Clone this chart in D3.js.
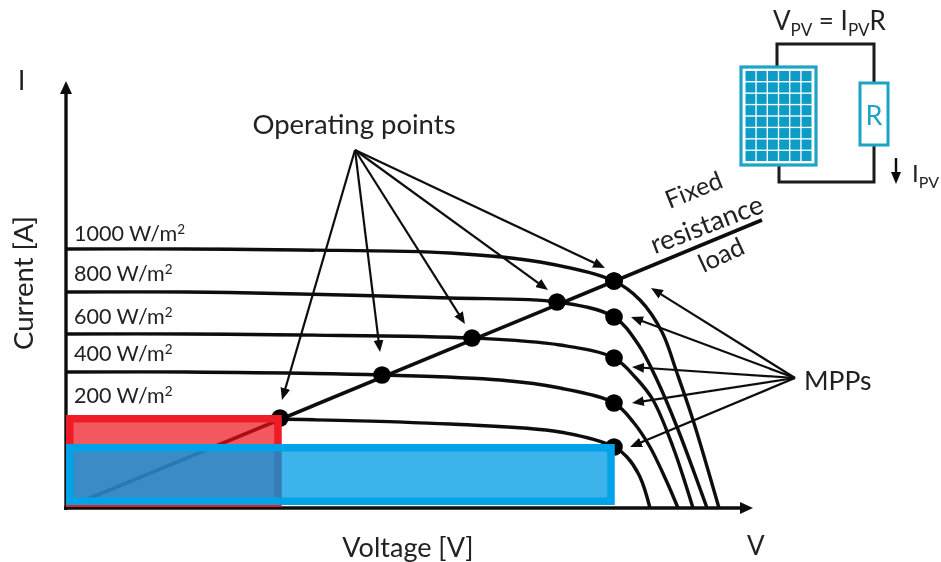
<!DOCTYPE html>
<html><head><meta charset="utf-8">
<script src="https://cdn.jsdelivr.net/npm/d3@7"></script>
<style>html,body{margin:0;background:#fff}svg{display:block}text{font-family:Lato,sans-serif;fill:#222}</style>
</head><body><svg id="c" width="941" height="562"></svg>
<script>
// Values are in reading units: voltage and current as measured along each axis.
const irradianceLabels = ["1000 W/m","800 W/m","600 W/m","400 W/m","200 W/m"];
const curve1000 = [[0,259],[120,259],[234,258],[384,255],[474,246],[548,227],[574,208],[596,176],[611,135],[627,88],[653,0]];
const curve800  = [[0,216],[120,216],[234,214],[384,210],[491,206],[548,191],[572,164],[591,128],[611,81],[641,0]];
const curve600  = [[0,174],[120,174],[234,173],[406,170],[494,163],[548,150],[570,130],[587,108],[607,61],[627,0]];
const curve400  = [[0,136],[120,136],[316,133],[434,128],[494,120],[548,105],[568,85],[584,61],[600,28],[612,0]];
const curve200  = [[0,91],[120,91],[214,89],[384,84],[494,76],[548,61],[561,51],[574,31],[584,0]];
const curves = [curve1000,curve800,curve600,curve400,curve200];
const loadLine = [[0,0],[696,288]];
const operatingPoints = [[214,90],[316,133],[406,170],[491,206],[548,227]];
const mppPoints = [[548,227],[548,191],[548,150],[548,105],[548,61]];
const opArrowFrom = [289,358];
const opArrowTo = [[216,108],[314,156],[399,184],[482,218],[539,240]];
const mppArrowFrom = [729,130];
const mppArrowTo = [[585,220],[565,191],[566,141],[566,105],[564,61]];
const redRect = {v:212, i:93};
const blueRect = {v:545, i:64};
const panelRows = d3.range(8), panelCols = d3.range(6);

const svg = d3.select("#c");
const x = d3.scaleLinear().domain([0,700]).range([66,766]);
const y = d3.scaleLinear().domain([0,430]).range([508,78]);
const defs = svg.append("defs");
defs.append("filter").attr("id","soft").attr("x","-5%").attr("y","-5%").attr("width","110%").attr("height","110%")
  .append("feGaussianBlur").attr("stdDeviation",0.55);
function marker(id,w,h,c){
  defs.append("marker").attr("id",id).attr("viewBox",`0 0 ${w} ${h}`).attr("refX",1).attr("refY",h/2)
   .attr("markerUnits","userSpaceOnUse").attr("markerWidth",w).attr("markerHeight",h).attr("orient","auto")
   .append("path").attr("d",`M${w},${h/2}L0,0L0,${h}Z`).attr("fill",c);
}
marker("small",12,10,"#111"); marker("axis",13,12,"#111");
const g = svg.append("g").attr("filter","url(#soft)");
const line = d3.line().x(d=>x(d[0])).y(d=>y(d[1]));

// curves
const cLine = d3.line().x(d=>x(d[0])).y(d=>y(d[1])).curve(d3.curveCatmullRom.alpha(0.5));
g.selectAll(".curve").data(curves).join("path").attr("class","curve").attr("d",cLine)
  .attr("fill","none").attr("stroke","#0c0c0c").attr("stroke-width",3.4);
// load line
g.append("path").attr("d",line(loadLine)).attr("fill","none").attr("stroke","#0c0c0c").attr("stroke-width",3.6);
// points
g.selectAll(".op").data(operatingPoints.concat(mppPoints)).join("circle")
  .attr("cx",d=>x(d[0])).attr("cy",d=>y(d[1])).attr("r",8.8).attr("fill","#050505");

// axes
const xAxis = g.append("g").attr("transform",`translate(0,${y(0)})`).call(d3.axisBottom(x).tickValues([]).tickSizeOuter(0));
const yAxis = g.append("g").attr("transform",`translate(${x(0)},0)`).call(d3.axisLeft(y).tickValues([]).tickSizeOuter(0));
xAxis.select(".domain").attr("stroke","#111").attr("stroke-width",3.4).attr("d",`M${x(0)-2},0H${x(675)}`).attr("marker-end","url(#axis)");
yAxis.select(".domain").attr("stroke","#111").attr("stroke-width",3.4).attr("d",`M0,${y(0)+2}V${y(415)}`).attr("marker-end","url(#axis)");

// rectangles at the operating point and the MPP of the 200 W/m2 curve
const sw = 7.5;
g.append("rect").attr("x",x(0)+sw/2).attr("y",y(redRect.i)+sw/2).attr("width",x(redRect.v)-x(0)-sw/2).attr("height",y(0)-y(redRect.i)-sw-1)
 .attr("fill","#f0131e").attr("fill-opacity",0.7).attr("stroke","#ee1c25").attr("stroke-width",sw);
g.append("rect").attr("x",x(0)+sw/2).attr("y",y(blueRect.i)+sw/2).attr("width",x(blueRect.v)-x(0)-sw/2).attr("height",y(0)-y(blueRect.i)-sw-3)
 .attr("fill","#009be6").attr("fill-opacity",0.76).attr("stroke","#00a2e8").attr("stroke-width",sw);

// arrows
function arrows(from,to){
  g.selectAll(null).data(to).join("line")
   .attr("x1",x(from[0])).attr("y1",y(from[1]))
   .attr("x2",d=>{const a=Math.atan2(y(d[1])-y(from[1]),x(d[0])-x(from[0]));return x(d[0])-Math.cos(a)*11})
   .attr("y2",d=>{const a=Math.atan2(y(d[1])-y(from[1]),x(d[0])-x(from[0]));return y(d[1])-Math.sin(a)*11})
   .attr("stroke","#111").attr("stroke-width",2.2).attr("marker-end","url(#small)");
}
arrows(opArrowFrom,opArrowTo);
arrows(mppArrowFrom,mppArrowTo);

// text
function t(s,px,py,size,anchor,rot){
  const e=g.append("text").attr("x",px).attr("y",py).attr("font-size",size).attr("text-anchor",anchor||"start").text(s);
  if(rot!==undefined) e.attr("transform",`rotate(${rot} ${px} ${py})`);
  return e;
}
const labelY=[241,281,324,361,403];
irradianceLabels.forEach((s,i)=>{
  const e=t(s,74,labelY[i],21.5);
  e.append("tspan").attr("dy",-7).attr("font-size",13.5).text("2");
});
t("Operating points",354,134,27.5,"middle");
t("MPPs",804,390,26.5);
t("Voltage [V]",408,557,27,"middle");
t("V",747,555,26);
t("I",18,90,26);
t("Current [A]",33,283,27.5,"middle",-90);
t("Fixed",697,198,25,"middle",-22);
t("resistance",710,233,27,"middle",-21);
t("load",725,263,25.5,"middle",-25);

// circuit
const wire="#1a1a1a";
g.append("path").attr("d","M777,66V44H874V82M874,146V182H779V166").attr("fill","none").attr("stroke",wire).attr("stroke-width",3);
const panel=g.append("g");
panel.append("rect").attr("x",741).attr("y",67).attr("width",75).attr("height",98).attr("fill","#fff").attr("stroke","#1ba3c6").attr("stroke-width",3.2);
const px=d3.scaleBand().domain(panelCols).range([745.5,811.5]).paddingInner(0.12);
const py=d3.scaleBand().domain(panelRows).range([71,161]).paddingInner(0.12);
panel.selectAll(null).data(panelRows.flatMap(r=>panelCols.map(c=>[r,c]))).join("rect")
  .attr("x",d=>px(d[1])).attr("y",d=>py(d[0])).attr("width",px.bandwidth()).attr("height",py.bandwidth()).attr("fill","#0a9cc6");
g.append("rect").attr("x",860).attr("y",83).attr("width",28).attr("height",62).attr("fill","#fff").attr("stroke","#1ba3c6").attr("stroke-width",3);
t("R",874,125,27,"middle").style("fill","#1ba3c6");
const eq=t("V",773,30,26);
eq.append("tspan").attr("dy",6).attr("font-size",17).text("PV");
eq.append("tspan").attr("dy",-6).text(" = I");
eq.append("tspan").attr("dy",6).attr("font-size",17).text("PV");
eq.append("tspan").attr("dy",-6).text("R");
g.append("line").attr("x1",896).attr("y1",158).attr("x2",896).attr("y2",173).attr("stroke","#111").attr("stroke-width",2.4).attr("marker-end","url(#small)");
const ip=t("I",912,182,24);
ip.append("tspan").attr("dy",6).attr("font-size",16).text("PV");
</script></body></html>
